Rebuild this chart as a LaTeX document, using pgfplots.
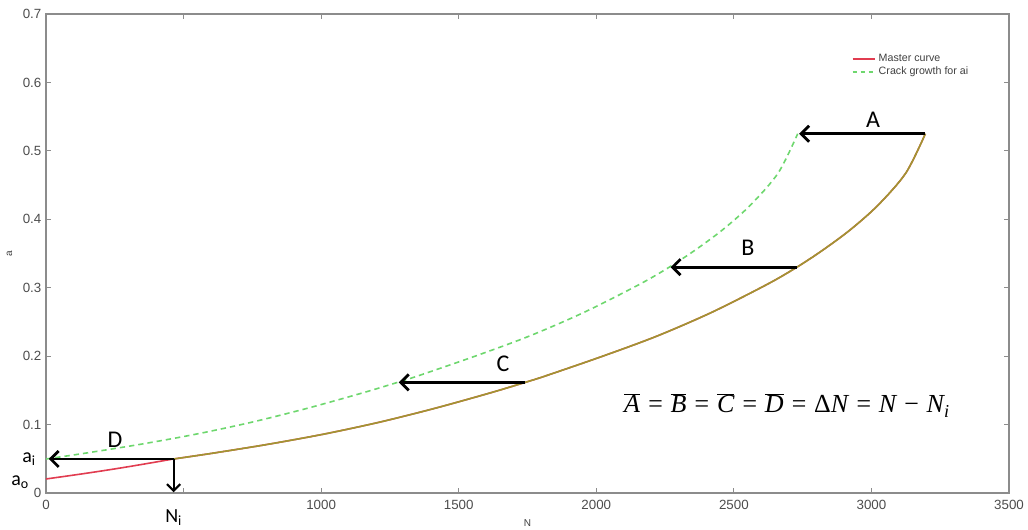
\documentclass[border=0pt]{standalone}
\usepackage{fontspec}
\setmainfont{Liberation Sans}
\newfontfamily\calfont{Carlito}
\newfontfamily\tms{Liberation Serif}
\usepackage{pgfplots}
\pgfplotsset{compat=1.18}
\usetikzlibrary{arrows.meta}
\definecolor{mred}{RGB}{225,60,80}
\definecolor{mgreen}{RGB}{110,215,110}
\definecolor{molive}{RGB}{160,150,50}
\definecolor{frame}{RGB}{140,140,140}
\newcommand\ol[1]{$\overline{\hbox{\tms\itshape #1}}$}
\begin{document}
\begin{tikzpicture}
\begin{axis}[name=ax, scale only axis, width=722.25pt, height=359.25pt,
  xmin=0, xmax=3500, ymin=0, ymax=0.7,
  xtick={0,500,...,3500}, ytick={0,0.1,...,0.7},
  xticklabels={0,,1000,1500,2000,2500,3000,3500},
  axis line style={frame, line width=0.9pt},
  tick style={frame, line width=0.6pt}, tick align=inside,
  major tick length=4pt,
  /pgf/number format/assume math mode=true,
  /pgf/number format/1000 sep={},
  yticklabel style={/pgf/number format/fixed, /pgf/number format/precision=1},
  xticklabel style={yshift=-1.5pt},
  tick label style={font=\fontsize{10}{11}\selectfont, text=black!70},
  xlabel={N}, ylabel={a},
  label style={font=\fontsize{7.5}{9}\selectfont, text=black!75},
  xlabel style={yshift=-1pt},
  ylabel style={yshift=1pt},
  clip=false,
  legend style={at={(0.835,0.925)}, anchor=north west, draw=none, fill=none,
    font=\fontsize{8}{9.5}\selectfont, text=black!75, row sep=-1.5pt,
    inner sep=1pt},
  legend cell align=left,
]
\addlegendimage{mred, line width=1.2pt}
\addlegendentry{Master curve}
\addlegendimage{mgreen, line width=1.2pt, dash pattern=on 3.5pt off 2.5pt}
\addlegendentry{Crack growth for ai}
\addplot[mred, line width=1.2pt, smooth, forget plot] coordinates {
(0,0.0205) (101,0.0262) (202,0.0322) (302,0.0386) (403,0.0455) (464,0.0497)
(605,0.0581) (806,0.0711) (1008,0.0859) (1210,0.1033) (1411,0.1235) (1613,0.1461)
(1741,0.1616) (1814,0.1709) (2016,0.1989) (2218,0.2289) (2419,0.2639) (2621,0.3049)
(2729,0.3300) (2822,0.3546) (2923,0.3846) (3024,0.4206) (3125,0.4676) (3196,0.5250)};
\addplot[mgreen, line width=1.2pt, smooth, dash pattern=on 4pt off 3pt, forget plot] coordinates {
(0,0.0497) (141,0.0581) (342,0.0711) (544,0.0859) (746,0.1033) (947,0.1235)
(1149,0.1461) (1277,0.1616) (1350,0.1709) (1552,0.1989) (1754,0.2289) (1955,0.2639)
(2157,0.3049) (2265,0.3300) (2358,0.3546) (2459,0.3846) (2560,0.4206) (2661,0.4676)
(2732,0.5250)};
\addplot[molive, line width=1.2pt, smooth, forget plot] coordinates {
(464,0.0497)
(605,0.0581) (806,0.0711) (1008,0.0859) (1210,0.1033) (1411,0.1235) (1613,0.1461)
(1741,0.1616) (1814,0.1709) (2016,0.1989) (2218,0.2289) (2419,0.2639) (2621,0.3049)
(2729,0.3300) (2822,0.3546) (2923,0.3846) (3024,0.4206) (3125,0.4676) (3196,0.5250)};
% arrows
\draw[line width=2.1pt, -{Straight Barb[length=6pt,width=12pt]}] (axis cs:3196,0.525) -- (axis cs:2737,0.525);
\draw[line width=2.1pt, -{Straight Barb[length=6pt,width=12pt]}] (axis cs:2729,0.330) -- (axis cs:2270,0.330);
\draw[line width=2.1pt, -{Straight Barb[length=6pt,width=12pt]}] (axis cs:1741,0.1616) -- (axis cs:1282,0.1616);
\draw[line width=2.1pt, -{Straight Barb[length=6pt,width=12pt]}] (axis cs:464,0.0497) -- (axis cs:10,0.0497);
\draw[line width=1.6pt, -{Straight Barb[length=5pt,width=10pt]}] (axis cs:464,0.0497) -- (axis cs:464,0.001);
% letters
\node[font=\calfont\fontsize{18}{18}\selectfont] at (axis cs:3006,0.545) {A};
\node[font=\calfont\fontsize{18}{18}\selectfont] at (axis cs:2551,0.358) {B};
\node[font=\calfont\fontsize{18}{18}\selectfont] at (axis cs:1661,0.1885) {C};
\node[font=\calfont\fontsize{18}{18}\selectfont] at (axis cs:251,0.0775) {D};
\node[font=\calfont\fontsize{15}{15}\selectfont, anchor=east] at (axis cs:-20,0.0497) {a\textsubscript{i}};
\node[font=\calfont\fontsize{15}{15}\selectfont, anchor=east] at (axis cs:-45,0.016) {a\textsubscript{o}};
\node[font=\calfont\fontsize{15}{15}\selectfont] at (axis cs:464,-0.036) {N\textsubscript{i}};
\node[font=\tms\itshape\fontsize{19.5}{20}\selectfont] at (axis cs:2693,0.1286)
  {\ol{A} = \ol{B} = \ol{C} = \ol{D} = {\upshape Δ}N = N − N\textsubscript{\itshape i}};
\end{axis}
\pgfresetboundingbox
\path[use as bounding box] ([xshift=-34.5pt,yshift=-27pt]ax.south west) rectangle ++(771pt,396.75pt);
\end{tikzpicture}
\end{document}
